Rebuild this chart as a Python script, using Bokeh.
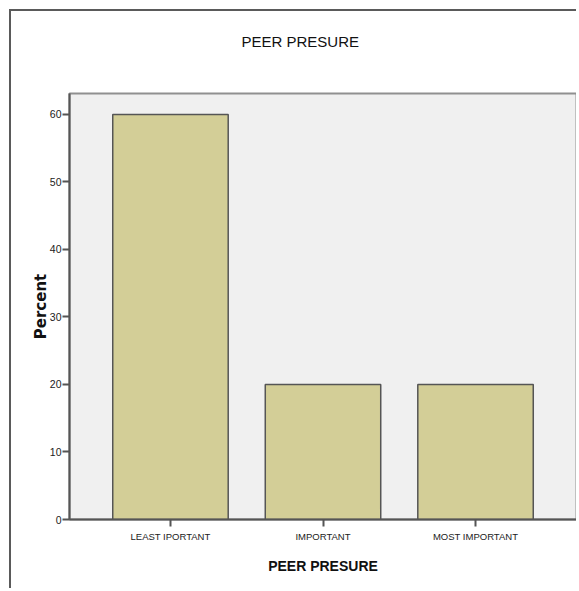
from bokeh.plotting import figure
from bokeh.models import FactorRange, Range1d, FixedTicker, Title
from bokeh.embed import file_html
from bokeh.resources import INLINE

categories = ["LEAST IPORTANT", "IMPORTANT", "MOST IMPORTANT"]
percents = [60, 20, 20]
y_ticks = [0, 10, 20, 30, 40, 50, 60]

FONT = "Liberation Sans"

p = figure(
    x_range=FactorRange(*categories, range_padding=0.108),
    y_range=Range1d(0, 63.1),
    width=567, height=579,
    output_backend="svg", toolbar_location=None,
    title="PEER PRESURE",
    min_border_left=58, min_border_right=2,
    min_border_top=82, min_border_bottom=71,
)
p.margin = (9, 0, 0, 9)
p.styles = {"border-top": "2px solid #5a5a5a", "border-left": "2px solid #5a5a5a"}

# spacer between the title and the plot frame
p.add_layout(Title(text=" ", text_font=FONT, text_font_size="15px", standoff=25), "above")

p.vbar(x=categories, top=percents, width=0.757,
       fill_color="#d3ce97", line_color="#555555", line_width=1.5)

p.title.text_font = FONT
p.title.text_font_size = "15px"
p.title.text_font_style = "normal"
p.title.text_color = "#111111"
p.title.align = "left"
p.title.offset = 172
p.title.standoff = 0

p.background_fill_color = "#f0f0f0"
p.border_fill_color = "white"
p.outline_line_color = "#909090"
p.outline_line_width = 2
p.xgrid.visible = False
p.ygrid.visible = False

p.yaxis.ticker = FixedTicker(ticks=y_ticks)
p.yaxis.minor_tick_line_color = None
p.xaxis.minor_tick_line_color = None

for ax in (p.xaxis[0], p.yaxis[0]):
    ax.axis_line_color = "#555555"
    ax.axis_line_width = 2
    ax.major_tick_line_color = "#555555"
    ax.major_tick_line_width = 2
    ax.major_tick_in = 0
    ax.major_tick_out = 7
    ax.major_label_text_font = FONT
    ax.major_label_text_font_size = "9.5px"
    ax.major_label_text_color = "#222222"
    ax.axis_label_text_font_style = "bold"
    ax.axis_label_text_color = "#111111"

p.yaxis.major_label_standoff = 1
p.yaxis.major_label_text_font_size = "10.5px"
p.xaxis.major_label_standoff = 4
p.xaxis.axis_label = "PEER PRESURE"
p.xaxis.axis_label_text_font = FONT
p.xaxis.axis_label_text_font_size = "14px"
p.xaxis.axis_label_standoff = 13
p.yaxis.axis_label = "Percent"
p.yaxis.axis_label_text_font = "DejaVu Sans"
p.yaxis.axis_label_text_font_size = "15px"
p.yaxis.axis_label_standoff = -3

open("out.html", "w").write(file_html(p, INLINE))
